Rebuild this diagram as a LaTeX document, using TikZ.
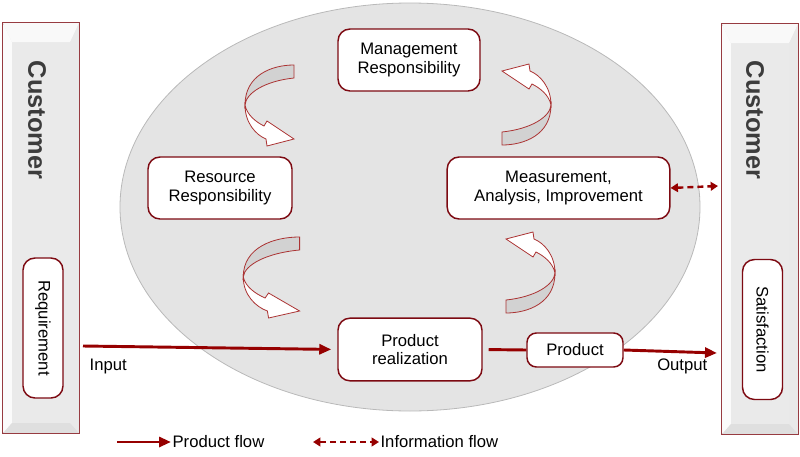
\documentclass[tikz,border=0pt]{standalone}
\usepackage{fontspec}
\setmainfont{Liberation Sans}
\usetikzlibrary{arrows.meta}
\definecolor{boxred}{RGB}{125,10,18}
\definecolor{flowred}{RGB}{150,0,0}
\definecolor{barfill}{RGB}{234,234,234}
\definecolor{ovalfill}{RGB}{228,228,228}
\definecolor{labelgray}{RGB}{60,60,60}
\tikzset{
  turn/.pic={
    \filldraw[turnback] (24,-40) .. controls (2,-40) and (-25,-30) .. (-25,0)
      .. controls (-24,-12) and (-5,-24) .. (24,-27) -- cycle;
    \filldraw[turnfront] (-25,0) .. controls (-25,18) and (-14,30) .. (-4,34)
      -- (-3,41) -- (24,34) -- (-3,16) -- (-6,21)
      .. controls (-14,17) and (-23,10) .. (-25,0) -- cycle;
  }
}
\begin{document}
\begin{tikzpicture}[x=0.75pt, y=-0.75pt,
    stage/.style={rectangle, rounded corners=9pt, draw=boxred, line width=1.1pt, fill=white, align=center, font=\fontsize{12.5}{13.8}\selectfont, inner sep=2pt},
    bar/.style={rectangle, draw=boxred!80, line width=0.7pt, fill=barfill, minimum width=57pt, minimum height=308pt},
    tag/.style={stage, rotate=-90, minimum width=105pt, minimum height=30pt},
    title/.style={rotate=-90, font=\bfseries\fontsize{19}{20}\selectfont, text=labelgray},
    plain/.style={font=\fontsize{12.5}{13.8}\selectfont},
    flow/.style={-{Triangle[length=9pt,width=7.5pt]}, line width=2.2pt, draw=flowred},
    info/.style={{Triangle[length=5.5pt,width=6.5pt]}-{Triangle[length=5.5pt,width=6.5pt]}, line width=1.8pt, draw=flowred, dash pattern=on 4.5pt off 3pt},
    turnback/.style={fill=gray!35, draw=flowred!80, line width=0.6pt},
    turnfront/.style={fill=white, draw=flowred!80, line width=0.6pt},
  ]
  \useasboundingbox (0,0) rectangle (800,457);

  % Oval
  \draw[draw=gray!55, fill=ovalfill, line width=0.6pt] (410,207) ellipse [x radius=290, y radius=204];

  % Customer bars
  \node[bar] (leftbar) at (41,228) {};
  \node[bar] (rightbar) at (760,229) {};
  \foreach \b in {leftbar,rightbar} {
    \fill[white!70!barfill] (\b.north west) -- (\b.north east) -- ([shift={(-7pt,-15pt)}]\b.north east) -- ([shift={(7pt,-15pt)}]\b.north west) -- cycle;
    \fill[white!80!barfill] (\b.north west) -- ([shift={(7pt,-15pt)}]\b.north west) -- ([shift={(7pt,8pt)}]\b.south west) -- (\b.south west) -- cycle;
    \fill[gray!17] (\b.north east) -- ([shift={(-7pt,-15pt)}]\b.north east) -- ([shift={(-7pt,8pt)}]\b.south east) -- (\b.south east) -- cycle;
    \fill[gray!25] (\b.south west) -- ([shift={(7pt,8pt)}]\b.south west) -- ([shift={(-7pt,8pt)}]\b.south east) -- (\b.south east) -- cycle;
    \draw[boxred!80, line width=0.7pt] (\b.north west) rectangle (\b.south east);
  }
  \node[title] (lefttitle) at (37,120) {Customer};
  \node[title] (righttitle) at (755,120) {Customer};
  \node[tag] (require) at (43,328) {Requirement};
  \node[tag] (satisf) at (762.5,329.5) {Satisfaction};

  % Process stages
  \node[stage, minimum width=106.5pt, minimum height=46.5pt] (mgmt) at (409,60) {Management\\Responsibility};
  \node[stage, minimum width=108pt, minimum height=46.5pt] (resource) at (220,188) {Resource\\Responsibility};
  \node[stage, minimum width=167pt, minimum height=46.5pt] (measure) at (558.5,188) {Measurement,\\Analysis, Improvement};
  \node[stage, minimum width=108pt, minimum height=47pt] (realize) at (410,349.5) {Product\\realization};
  \node[stage, minimum width=72pt, minimum height=25.5pt, rounded corners=7pt] (product) at (575,350) {Product};

  % Turning arrows
  \pic at (270,105) {turn};
  \pic[xscale=1.15] at (272,277) {turn};
  \pic[rotate=180] at (526,105) {turn};
  \pic[rotate=180] at (530,273) {turn};

  % Flows
  \coordinate (inputstart) at (83,346);
  \coordinate (outputend) at (717,353);
  \coordinate (infoend) at (718,186);
  \draw[flow, shorten >=4.5pt] (inputstart) -- (realize.west);
  \draw[flowred, line width=2.2pt, shorten <=4.5pt] (realize.east) -- (product.west);
  \draw[flow] (product.east) -- (outputend);
  \draw[info] (measure.east) -- (infoend);
  \node[plain, anchor=west] (inputlabel) at (85,366) {Input};
  \node[plain, anchor=east] (outputlabel) at (712,366) {Output};

  % Legend
  \coordinate (pfa) at (117,442);
  \coordinate (pfb) at (171,442);
  \coordinate (ifa) at (313,442);
  \coordinate (ifb) at (379,442);
  \draw[flow] (pfa) -- (pfb);
  \draw[info] (ifa) -- (ifb);
  \node[plain, anchor=west, inner sep=1pt] (pflabel) at (pfb) {Product flow};
  \node[plain, anchor=west, inner sep=1pt] (iflabel) at (ifb) {Information flow};
\end{tikzpicture}
\end{document}
